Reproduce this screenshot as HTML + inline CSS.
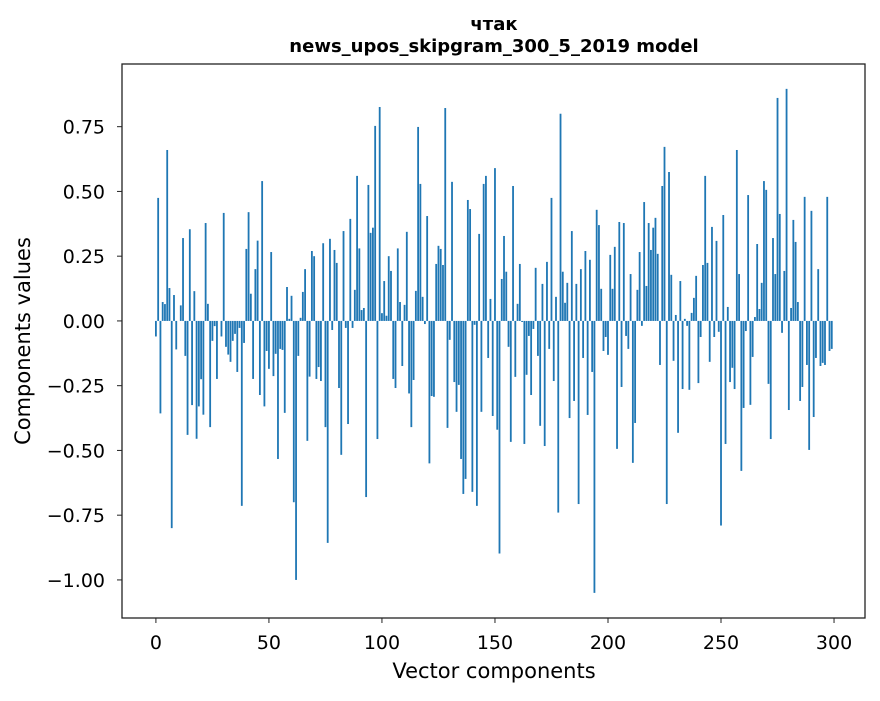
<!DOCTYPE html>
<html><head><meta charset="utf-8"><style>
body{margin:0;background:#fff;}
svg text{font-family:"DejaVu Sans","Liberation Sans",sans-serif;fill:#000;}
</style></head><body>
<svg id="chart" width="880" height="696" xmlns="http://www.w3.org/2000/svg">
<rect width="880" height="696" fill="#fff"/>
<text x="494" y="30" text-anchor="middle" font-size="18" font-weight="bold">чтак</text>
<text x="494" y="52" text-anchor="middle" font-size="18" font-weight="bold">news_upos_skipgram_300_5_2019 model</text>
<g id="bars"></g>
<g id="axes"></g>
<rect x="122" y="64" width="743" height="554" fill="none" stroke="#222" stroke-width="1.3"/>
<text x="494" y="678" text-anchor="middle" font-size="21">Vector components</text>
<text transform="translate(30,341) rotate(-90)" text-anchor="middle" font-size="21">Components values</text>
</svg>
<script>
const values = [
-0.06,0.475,-0.357,0.073,0.065,0.66,0.127,-0.80,0.10,-0.11,
0,0.06,0.32,-0.135,-0.44,0.354,-0.325,0.115,-0.455,-0.33,
-0.225,-0.362,0.378,0.066,-0.41,-0.077,-0.02,-0.224,0,-0.06,
0.417,-0.10,-0.13,-0.158,-0.077,-0.05,-0.197,-0.027,-0.714,-0.085,
0.278,0.42,0.105,-0.224,0.2,0.31,-0.286,0.54,-0.33,-0.116,
-0.185,0.266,-0.213,-0.127,-0.533,-0.108,-0.112,-0.355,0.131,0.008,
0.097,-0.70,-1.0,-0.135,0.012,0.112,0.2,-0.463,-0.215,0.27,
0.25,-0.224,-0.178,-0.232,0.30,-0.41,-0.857,0.317,-0.035,0.274,
0.224,-0.259,-0.517,0.347,-0.027,-0.398,0.394,-0.027,0.12,0.56,
0.28,0.042,0.05,-0.68,0.525,0.34,0.36,0.753,-0.456,0.826,
0.03,0.154,0.02,0.25,0.193,-0.224,-0.259,0.28,0.073,-0.174,
0.062,0.344,-0.28,-0.41,-0.228,0.116,0.749,0.529,0.093,-0.012,
0.405,-0.55,-0.29,-0.293,0.22,0.29,0.278,0.216,0.822,-0.413,
-0.073,0.537,-0.236,-0.351,-0.247,-0.533,-0.668,-0.61,0.467,0.432,
-0.66,-0.015,-0.714,0.336,-0.351,0.529,0.56,-0.143,0.085,-0.367,
0.59,-0.42,-0.898,0.162,0.328,0.19,-0.1,-0.467,0.521,-0.216,
0.066,0.22,-0.004,-0.475,-0.208,-0.058,-0.286,-0.031,0.205,-0.135,
-0.405,0.143,-0.483,0.228,-0.108,0.475,-0.232,0.093,-0.74,0.8,
0.19,0.07,0.147,-0.375,0.347,-0.309,0.143,-0.707,0.2,-0.143,
0.27,-0.363,0.236,-0.197,-1.05,0.429,0.37,0.124,-0.116,-0.062,
-0.131,0.255,0.124,0.286,-0.494,0.382,-0.255,0.378,-0.058,-0.108,
0.181,-0.548,-0.394,0.12,0.266,-0.019,0.459,0.135,0.378,0.274,
0.36,0.398,0.259,-0.17,0.521,0.672,-0.707,0.575,0.178,-0.154,
0.023,-0.432,0.154,-0.263,0.008,-0.019,-0.266,0.031,0.089,0.174,
-0.24,-0.062,0.216,0.56,0.224,-0.158,0.363,-0.062,0.309,-0.042,
-0.79,0.409,-0.475,0.054,-0.236,-0.181,-0.263,0.66,0.181,-0.579,
-0.336,-0.039,0.486,-0.324,-0.139,0.015,0.297,0.046,0.147,0.54,
0.506,-0.243,-0.456,0.32,0.181,0.861,0.413,-0.046,0.193,0.896,
-0.344,0.05,0.39,0.305,0.073,-0.309,-0.255,0.479,-0.17,-0.498,
0.425,-0.371,-0.143,0.2,-0.174,-0.162,-0.17,0.479,-0.116,-0.108
];
const xTicks = [0,50,100,150,200,250,300];
const yTicks = [0.75,0.5,0.25,0,-0.25,-0.5,-0.75,-1.0];
const yTickLabels = ["0.75","0.50","0.25","0.00","\u22120.25","\u22120.50","\u22120.75","\u22121.00"];

const L=122,R=865,T=64,B=618;
const xMin=-15,xMax=313.7,yMin=-1.147,yMax=0.992;
const xs=v=>L+(v-xMin)/(xMax-xMin)*(R-L);
const ys=v=>B-(v-yMin)/(yMax-yMin)*(B-T);
const NS="http://www.w3.org/2000/svg";
const bars=document.getElementById('bars');
values.forEach((v,i)=>{
  const r=document.createElementNS(NS,'rect');
  const x0=xs(i-0.4),x1=xs(i+0.4);
  const y0=ys(Math.max(v,0)),y1=ys(Math.min(v,0));
  r.setAttribute('x',x0);r.setAttribute('width',x1-x0);
  r.setAttribute('y',y0);r.setAttribute('height',Math.max(y1-y0,0.01));
  r.setAttribute('fill','#1f77b4');
  
  
  bars.appendChild(r);
});
const axes=document.getElementById('axes');
xTicks.forEach(t=>{
  const x=xs(t);
  const l=document.createElementNS(NS,'line');
  l.setAttribute('x1',x);l.setAttribute('x2',x);l.setAttribute('y1',B);l.setAttribute('y2',B+5);
  l.setAttribute('stroke','#222');
  
  
  axes.appendChild(l);
  const tx=document.createElementNS(NS,'text');
  tx.setAttribute('x',x);tx.setAttribute('y',B+31);tx.setAttribute('text-anchor','middle');tx.setAttribute('font-size','19');
  tx.textContent=t;
  
  
  axes.appendChild(tx);
});
yTicks.forEach((t,i)=>{
  const y=ys(t);
  const l=document.createElementNS(NS,'line');
  l.setAttribute('x1',L-5);l.setAttribute('x2',L);l.setAttribute('y1',y);l.setAttribute('y2',y);
  l.setAttribute('stroke','#222');
  
  
  axes.appendChild(l);
  const tx=document.createElementNS(NS,'text');
  tx.setAttribute('x',L-17);tx.setAttribute('y',y+7);tx.setAttribute('text-anchor','end');tx.setAttribute('font-size','19');
  tx.textContent=yTickLabels[i];
  
  
  axes.appendChild(tx);
});
</script>
</body></html>
